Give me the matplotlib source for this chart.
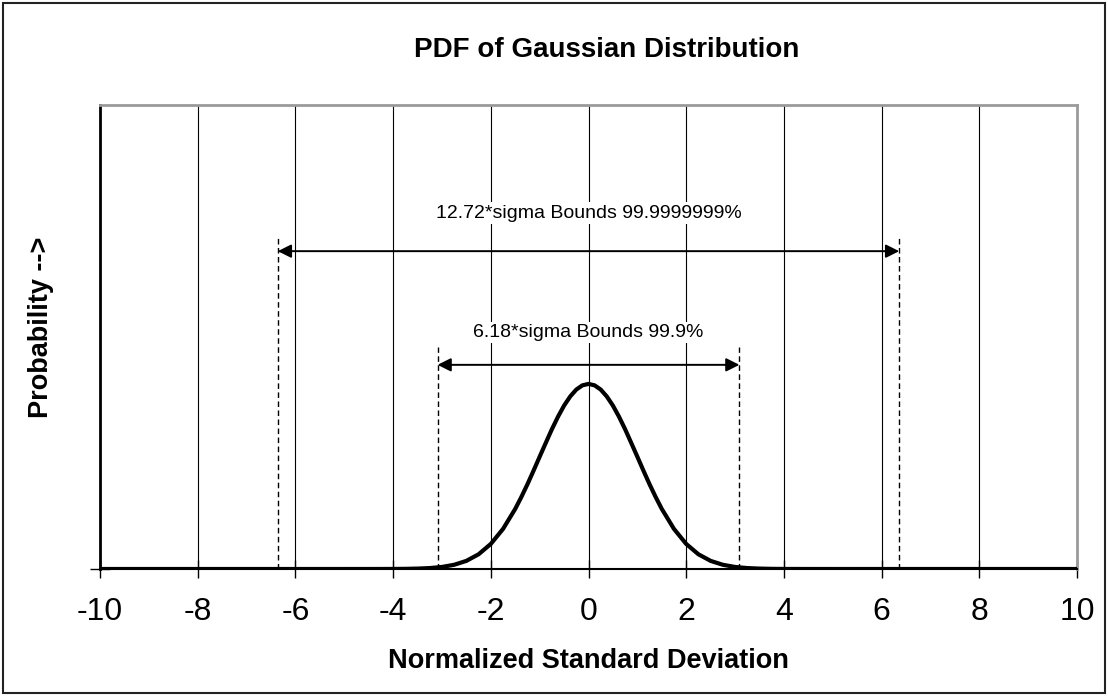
import matplotlib.pyplot as plt
from matplotlib.patches import Rectangle

# values
x_vals = [-10.0, -6.0, -4.5, -4.0, -3.75, -3.5, -3.25, -3.0, -2.75, -2.5, -2.25, -2.0,
          -1.75, -1.5, -1.375, -1.25, -1.125, -1.0, -0.875, -0.75, -0.625, -0.5,
          -0.375, -0.25, -0.125, 0.0,
          0.125, 0.25, 0.375, 0.5, 0.625, 0.75, 0.875, 1.0, 1.125, 1.25, 1.375, 1.5,
          1.75, 2.0, 2.25, 2.5, 2.75, 3.0, 3.25, 3.5, 3.75, 4.0, 4.5, 6.0, 10.0]
pdf_vals = [0.0, 0.0, 0.00002, 0.00013, 0.00035, 0.0009, 0.002, 0.0044, 0.0091, 0.0175, 0.0317, 0.054,
            0.0863, 0.1295, 0.1551, 0.1826, 0.2119, 0.242, 0.2717, 0.3011, 0.3281, 0.3521,
            0.3718, 0.3867, 0.3958, 0.3989,
            0.3958, 0.3867, 0.3718, 0.3521, 0.3281, 0.3011, 0.2717, 0.242, 0.2119, 0.1826, 0.1551, 0.1295,
            0.0863, 0.054, 0.0317, 0.0175, 0.0091, 0.0044, 0.002, 0.0009, 0.00035, 0.00013, 0.00002, 0.0, 0.0]

x_ticks = [-10, -8, -6, -4, -2, 0, 2, 4, 6, 8, 10]

# bound annotations: (half width in sigma, label)
bounds = [
    (3.09, "6.18*sigma Bounds 99.9%"),
    (6.36, "12.72*sigma Bounds 99.9999999%"),
]
arrow_y = [0.44, 0.685]
dash_top = [0.478, 0.72]
label_y = [0.51, 0.767]

plt.rcParams["font.family"] = ["Liberation Sans", "DejaVu Sans"]

fig = plt.figure(figsize=(11.08, 6.96), dpi=100)
ax = fig.add_axes([100 / 1108, 1 - 569 / 696, 977 / 1108, 464 / 696])

for xt in x_ticks[1:-1]:
    ax.axvline(xt, color="black", lw=0.8, zorder=1)

ax.plot(x_vals, pdf_vals, color="black", lw=3.0, solid_capstyle="round",
        solid_joinstyle="round", zorder=4)

for (half, text), ay, dt, ly in zip(bounds, arrow_y, dash_top, label_y):
    for sx in (-half, half):
        ax.plot([sx, sx], [0, dt], color="black", lw=1.0, ls=(0, (4, 2.5)), zorder=2)
    ax.annotate("", xy=(half, ay), xytext=(-half, ay),
                arrowprops=dict(arrowstyle="<|-|>", color="black", lw=1.4,
                                mutation_scale=20, shrinkA=0, shrinkB=0),
                zorder=3)
    ax.text(0, ly, text, ha="center", va="center", fontsize=14,
            bbox=dict(facecolor="white", edgecolor="none", pad=1.5), zorder=3)

ax.set_xlim(-10, 10)
ax.set_ylim(0, 1)
ax.set_xticks(x_ticks)
ax.set_xticklabels([str(t) for t in x_ticks])
ax.set_yticks([0])
ax.set_yticklabels([])
ax.tick_params(axis="x", direction="inout", length=13, width=1.0, labelsize=23, pad=14)
ax.tick_params(axis="y", direction="inout", length=14, width=1.0)

ax.spines["left"].set_linewidth(2.0)
ax.spines["left"].set_color("black")
ax.spines["bottom"].set_linewidth(1.5)
ax.spines["top"].set_color("#9a9a9a")
ax.spines["top"].set_linewidth(2.0)
ax.spines["right"].set_color("#9a9a9a")
ax.spines["right"].set_linewidth(2.0)

ax.set_xlabel("Normalized Standard Deviation", fontsize=19.5, fontweight="bold", labelpad=15)
ax.set_ylabel("Probability -->", fontsize=19.5, fontweight="bold")
ax.yaxis.set_label_coords(-0.047, 0.52)

fig.text(607 / 1108, 1 - 50 / 696, "PDF of Gaussian Distribution", ha="center", va="center",
         fontsize=20, fontweight="bold")

fig.patches.append(Rectangle((0.003, 0.005), 0.994, 0.99, transform=fig.transFigure,
                             fill=False, edgecolor="#222222", lw=1.5))

fig.savefig("out.png", dpi=100)
